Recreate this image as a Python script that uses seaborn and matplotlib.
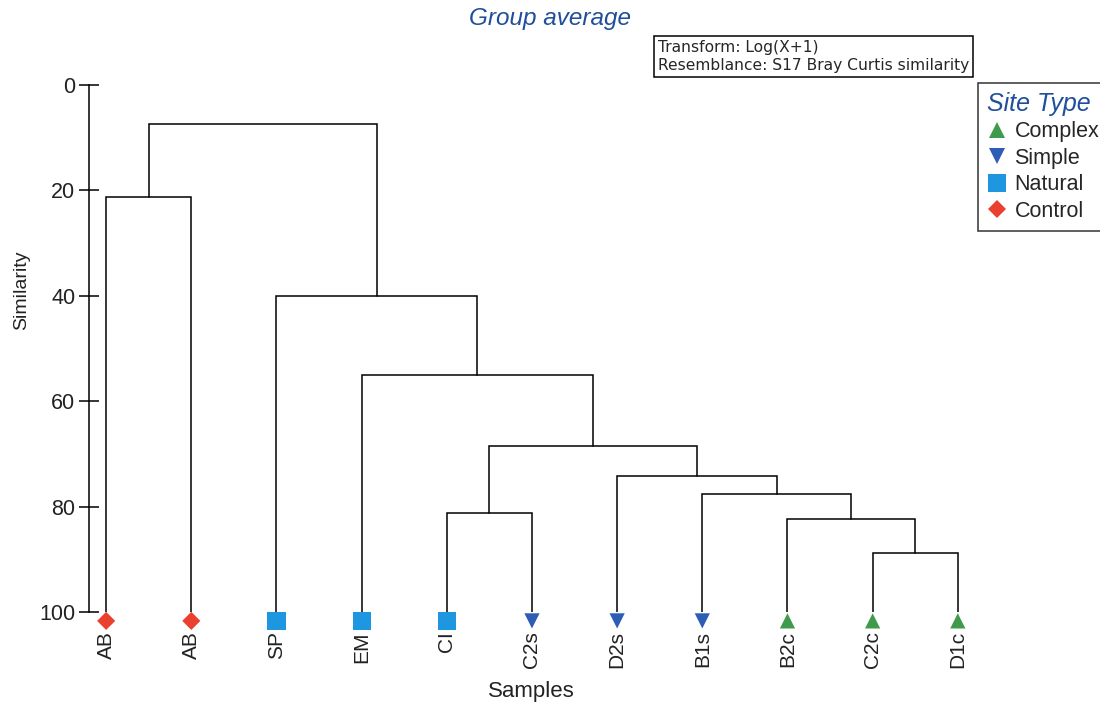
import numpy as np
import pandas as pd
import seaborn as sns
import matplotlib.pyplot as plt
from matplotlib.transforms import ScaledTranslation

# 樣本（葉節點）與站點類型
leaves = ['AB', 'AB', 'SP', 'EM', 'CI', 'C2s', 'D2s', 'B1s', 'B2c', 'C2c', 'D1c']
site_type = ['Control', 'Control', 'Natural', 'Natural', 'Natural',
             'Simple', 'Simple', 'Simple', 'Complex', 'Complex', 'Complex']

# 合併步驟：左右子節點（0-10 為葉，11 以後為群集）與相似度
merge_left = [9, 8, 4, 7, 6, 13, 3, 2, 0, 19]
merge_right = [10, 11, 5, 12, 14, 15, 16, 17, 1, 18]
merge_sim = [88.8, 82.4, 81.2, 77.6, 74.2, 68.5, 55.0, 40.0, 21.3, 7.4]

type_order = ['Complex', 'Simple', 'Natural', 'Control']
palette = {'Complex': '#3f9a4c', 'Simple': '#2e5db5',
           'Natural': '#1f97e0', 'Control': '#ea4030'}
markers = {'Complex': '^', 'Simple': 'v', 'Natural': 's', 'Control': 'D'}
marker_sizes = {'Complex': 120, 'Simple': 120, 'Natural': 170, 'Control': 85}

sns.set_style('white')
plt.rcParams['font.family'] = ['Liberation Sans', 'DejaVu Sans']

fig = plt.figure(figsize=(11, 7.09), dpi=100)
ax = fig.add_axes([0.081, 0.137, 0.8145, 0.743])

# 節點座標
n = len(leaves)
node_x = list(range(n))
node_y = [100.0] * n
for l, r, s in zip(merge_left, merge_right, merge_sim):
    xl, xr = node_x[l], node_x[r]
    yl, yr = node_y[l], node_y[r]
    ax.plot([xl, xl, xr, xr], [yl, s, s, yr], color='black', lw=1.1,
            solid_joinstyle='miter')
    node_x.append((xl + xr) / 2)
    node_y.append(s)

df = pd.DataFrame({'pos': np.arange(n), 'sim': 100.0, 'type': site_type})
sns.scatterplot(data=df, x='pos', y='sim', hue='type', style='type', size='type',
                hue_order=type_order, style_order=type_order, size_order=type_order,
                palette=palette, markers=markers, sizes=marker_sizes, linewidth=0,
                ax=ax, clip_on=False, zorder=5)
coll = ax.collections[-1]
coll.set_offset_transform(ax.transData +
                          ScaledTranslation(0, -6.5 / 72, fig.dpi_scale_trans))

ax.set_xlim(-0.2, 10.32)
ax.set_ylim(100, 0)
ax.set_yticks([0, 20, 40, 60, 80, 100])
ax.set_xticks(range(n))
ax.set_xticklabels(leaves, rotation=90, va='top', ha='center')
ax.tick_params(axis='x', length=0, pad=14, labelsize=15, colors='#222222')
ax.tick_params(axis='y', left=True, direction='inout', length=14, width=1.1,
               labelsize=15.5, pad=3, color='black', labelcolor='#222222')
for side in ['top', 'right', 'bottom']:
    ax.spines[side].set_visible(False)
ax.spines['left'].set_bounds(0, 100)
ax.spines['left'].set_color('black')
ax.spines['left'].set_linewidth(1.1)

ax.set_ylabel('Similarity', fontsize=14, color='#222222')
ax.set_xlabel('Samples', fontsize=16, color='#222222')
ax.yaxis.set_label_coords(0.02, 0.591, transform=fig.transFigure)
ax.xaxis.set_label_coords(0.483, 0.024, transform=fig.transFigure)
ax.xaxis.label.set_va('center')
ax.yaxis.label.set_va('center')

fig.text(0.5, 0.974, 'Group average', ha='center', va='center',
         fontsize=17.5, style='italic', color='#1f4e9c')
fig.text(0.598, 0.944, 'Transform: Log(X+1)\nResemblance: S17 Bray Curtis similarity',
         ha='left', va='top', fontsize=11.2, linespacing=1.25,
         family=['DejaVu Sans'],
         bbox=dict(boxstyle='square,pad=0.25', fc='white', ec='black', lw=1.1))

sns.move_legend(ax, loc='upper left', bbox_to_anchor=(0.889, 0.883),
                bbox_transform=fig.transFigure, title='Site Type',
                frameon=True, fancybox=False, fontsize=15.5,
                handletextpad=0.3, borderpad=0.4, labelspacing=0.26,
                handlelength=1.0, borderaxespad=0)
leg = ax.get_legend()
leg.get_frame().set_edgecolor('black')
leg.get_frame().set_linewidth(1.1)
leg.get_title().set_fontstyle('italic')
leg.get_title().set_color('#1f4e9c')
leg.get_title().set_fontsize(18)
leg._legend_box.align = 'left'

fig.savefig('out.png', dpi=100)
